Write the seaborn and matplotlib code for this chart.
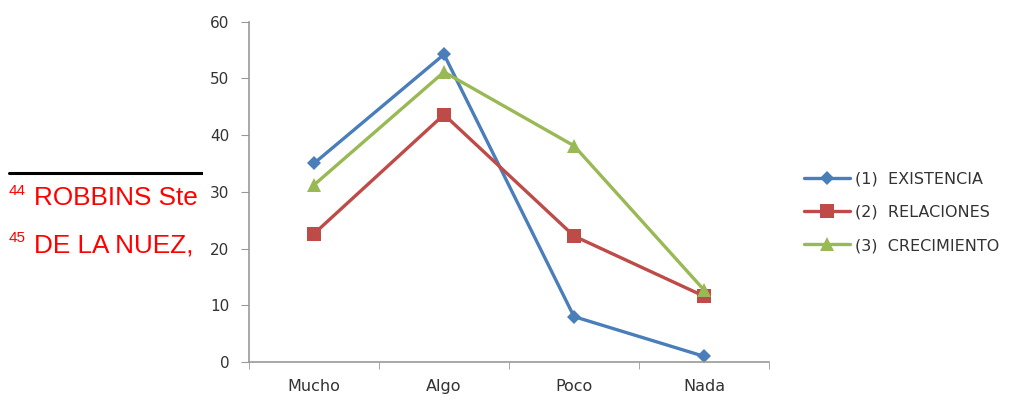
import matplotlib
matplotlib.use('Agg')
import matplotlib.pyplot as plt
import seaborn as sns

categorias = ['Mucho', 'Algo', 'Poco', 'Nada']
existencia = [35, 54.2, 8, 1]
relaciones = [22.6, 43.6, 22.2, 11.6]
crecimiento = [31.2, 51.1, 38.1, 12.7]

series = [
    ('(1)  EXISTENCIA', existencia, '#4A7EBB', 'D', 7),
    ('(2)  RELACIONES', relaciones, '#BE4B48', 's', 10),
    ('(3)  CRECIMIENTO', crecimiento, '#98B954', '^', 10),
]

sns.set_style('white')
plt.rcParams['font.family'] = ['DejaVu Sans']

fig = plt.figure(figsize=(10.23, 4), dpi=100)

# footnote fragment from the page behind the chart
ax_note = fig.add_axes([0, 0, 203 / 1023, 1])
ax_note.set_xlim(0, 203)
ax_note.set_ylim(400, 0)
ax_note.axis('off')
ax_note.plot([9, 203], [173, 173], color='black', lw=2.2)
for y, num, txt in [(205, '44', 'ROBBINS Ste'), (252, '45', 'DE LA NUEZ,')]:
    ax_note.text(9, y - 10, num, color='#FF0000', fontsize=11,
                 family='Liberation Sans', va='baseline', clip_on=True)
    ax_note.text(34, y, txt, color='#FF0000', fontsize=18.8,
                 family='Liberation Sans', va='baseline', clip_on=True)

ax = fig.add_axes([249 / 1023, 1 - 362 / 400, 520 / 1023, 340.5 / 400])
for label, vals, color, marker, ms in series:
    sns.lineplot(x=categorias, y=vals, ax=ax, color=color, marker=marker,
                 markersize=ms, markeredgewidth=0, linewidth=2.4,
                 label=label, sort=False)

ax.set_xlim(-0.5, 3.5)
ax.set_ylim(0, 60)
ax.set_yticks(range(0, 61, 10))
ax.set_xticks(range(4))
ax.set_xticks([-0.5, 0.5, 1.5, 2.5, 3.5], minor=True)
ax.set_xticklabels(categorias)
ax.tick_params(axis='x', which='major', length=0, pad=12, labelsize=11.5,
               labelcolor='#333333')
ax.tick_params(axis='x', which='minor', length=5, color='#999999',
               direction='out', bottom=True)
ax.tick_params(axis='y', length=6, color='#999999', direction='out', left=True,
               labelsize=11, labelcolor='#333333', pad=8)
for side in ['top', 'right']:
    ax.spines[side].set_visible(False)
for side in ['left', 'bottom']:
    ax.spines[side].set_color('#999999')
    ax.spines[side].set_linewidth(1.2)
ax.set_xlabel('')
ax.set_ylabel('')

ax.legend(loc='center left', bbox_to_anchor=(1.04, 0.44), frameon=False,
          fontsize=11.5, handlelength=2.9, handletextpad=0.3, labelspacing=1.15,
          labelcolor='#333333')

fig.savefig('out.png', dpi=100)
